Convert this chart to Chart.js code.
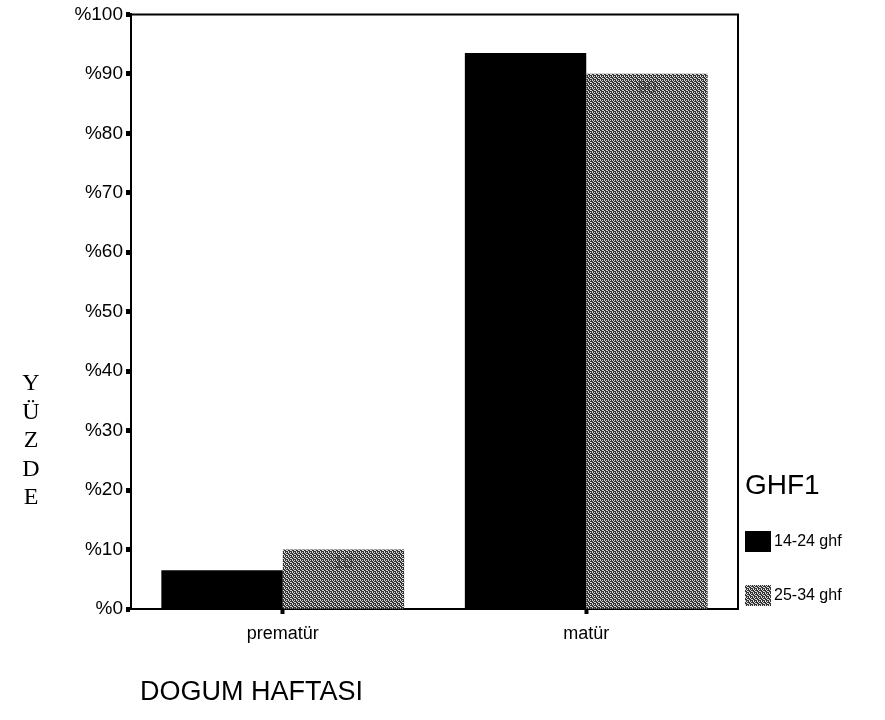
<!DOCTYPE html>
<html>
<head>
<meta charset="utf-8">
<script src="https://cdn.jsdelivr.net/npm/chart.js@4"></script>
<style>
  body { margin: 0; background: #fff; }
  #wrap { position: relative; width: 885px; height: 720px; font-family: Arial, "Liberation Sans", sans-serif; }
  #chart { position: absolute; left: 0; top: 0; }
  .ytitle { position: absolute; left: 18px; top: 368px; width: 26px; text-align: center;
    font-family: "Liberation Serif", "DejaVu Serif", serif; font-size: 24px; line-height: 28.5px; }
  .xtitle { position: absolute; left: 140px; top: 676px; font-size: 27px; }
  .legend { position: absolute; left: 745px; top: 469px; }
  .legend h3 { margin: 0 0 30px 0; font-weight: normal; font-size: 28px; }
  .legend .item { display: flex; align-items: center; height: 20px; margin-bottom: 34px; font-size: 16px; }
  .legend .sw { width: 26px; height: 21px; margin-right: 3px; }
</style>
</head>
<body>
<div id="wrap">
  <canvas id="chart" width="885" height="720"></canvas>
  <div class="ytitle">Y<br>Ü<br>Z<br>D<br>E</div>
  <div class="xtitle">DOGUM HAFTASI</div>
  <div class="legend" id="legend"></div>
</div>
<script>
const categories = ['prematür', 'matür']
const groupTitle = 'GHF1'
const seriesNames = ['14-24 ghf', '25-34 ghf']
const early = [6.5, 93.5]
const late = [10, 90]
const yTicks = [0, 10, 20, 30, 40, 50, 60, 70, 80, 90, 100]

// dotted grey fill for the second group
const dotTile = (() => {
  const c = document.createElement('canvas')
  c.width = 4
  c.height = 4
  const g = c.getContext('2d')
  g.fillStyle = '#333'
  g.fillRect(0, 0, 4, 4)
  g.fillStyle = '#dcdcdc'
  ;[[0, 0], [2, 0], [1, 1], [3, 2], [2, 2], [0, 3]].forEach(([x, y]) => g.fillRect(x, y, 1, 1))
  return c
})()
const dots = dotTile.getContext('2d').createPattern(dotTile, 'repeat')
const fills = ['#000', dots]

const frame = {
  id: 'frame',
  afterDraw (chart) {
    const { ctx, chartArea: a } = chart
    ctx.save()
    ctx.strokeStyle = '#000'
    ctx.lineWidth = 2
    ctx.beginPath()
    ctx.moveTo(a.left, a.top)
    ctx.lineTo(a.right, a.top)
    ctx.lineTo(a.right, a.bottom)
    ctx.stroke()

    // faint value labels inside the dotted bars
    const meta = chart.getDatasetMeta(1)
    ctx.font = '17px Arial'
    ctx.fillStyle = 'rgba(40,40,40,0.55)'
    ctx.textAlign = 'center'
    ctx.textBaseline = 'middle'
    meta.data.forEach((bar, i) => ctx.fillText(String(late[i]), bar.x, bar.y + 14))
    ctx.restore()
  },
}

const chart = new Chart(document.getElementById('chart'), {
  type: 'bar',
  data: {
    labels: categories,
    datasets: [
      { label: seriesNames[0], data: early, backgroundColor: fills[0], borderWidth: 0 },
      { label: seriesNames[1], data: late, backgroundColor: fills[1], borderWidth: 0 },
    ],
  },
  plugins: [frame],
  options: {
    responsive: false,
    animation: false,
    layout: { padding: { top: 14, right: 147, left: 0, bottom: 0 } },
    plugins: { legend: { display: false }, tooltip: { enabled: false } },
    datasets: { bar: { barPercentage: 1, categoryPercentage: 0.8 } },
    scales: {
      x: {
        afterFit: (s) => { s.height = 111 },
        border: { color: '#000', width: 2 },
        grid: { offset: false, drawOnChartArea: false, color: '#000', tickLength: 5, tickWidth: 4 },
        ticks: { color: '#000', padding: 9, font: { family: 'Arial', size: 18 } },
      },
      y: {
        min: 0,
        max: 100,
        afterFit: (s) => { s.width = 131 },
        afterBuildTicks: (s) => { s.ticks = yTicks.map(v => ({ value: v })) },
        border: { color: '#000', width: 2 },
        grid: { drawOnChartArea: false, color: '#000', tickLength: 5, tickWidth: 5 },
        ticks: { color: '#000', padding: 3, font: { family: 'Arial', size: 19 }, callback: v => '%' + v },
      },
    },
  },
})

// legend box built from the datasets
const legend = document.getElementById('legend')
legend.innerHTML = `<h3>${groupTitle}</h3>`
chart.data.datasets.forEach((ds, i) => {
  const item = document.createElement('div')
  item.className = 'item'
  const sw = document.createElement('span')
  sw.className = 'sw'
  if (i === 0) sw.style.background = '#000'
  else sw.style.backgroundImage = `url(${dotTile.toDataURL()})`
  item.appendChild(sw)
  item.appendChild(document.createTextNode(ds.label))
  legend.appendChild(item)
})
</script>
</body>
</html>
